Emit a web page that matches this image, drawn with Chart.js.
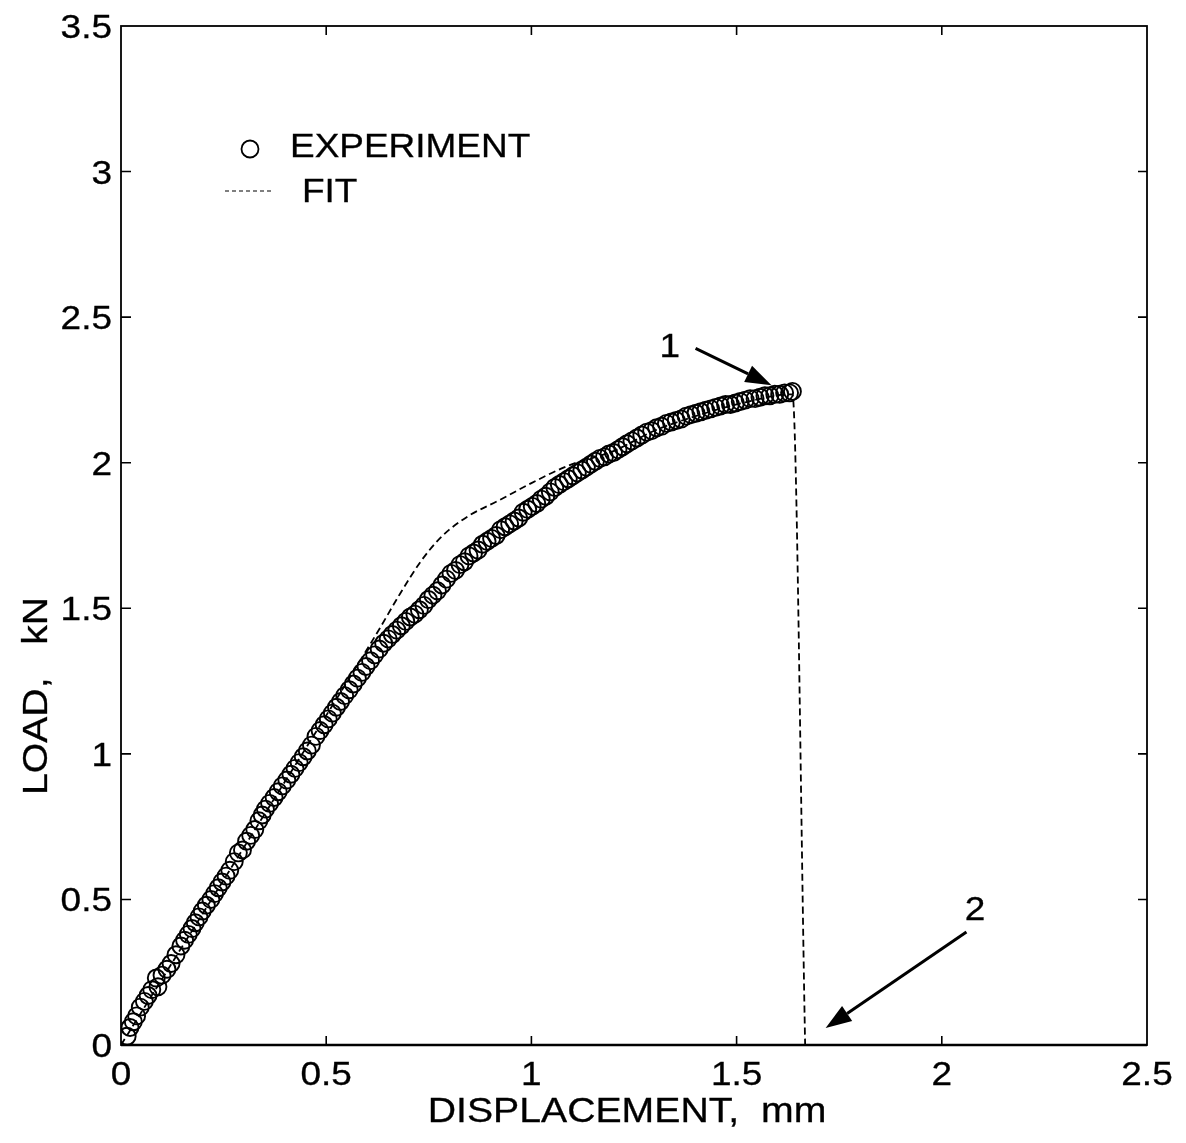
<!DOCTYPE html>
<html>
<head>
<meta charset="utf-8">
<script src="https://cdn.jsdelivr.net/npm/chart.js@4.4.1/dist/chart.umd.min.js"></script>
<style>
    html, body { margin: 0; padding: 0; background: #fff; }
    canvas { display: block; }
</style>
</head>
<body>
<canvas id="load-chart" width="1186" height="1143"></canvas>
<script>
// Tick labels
const xTicks = [0, 0.5, 1, 1.5, 2, 2.5];
const yTicks = [0, 0.5, 1, 1.5, 2, 2.5, 3, 3.5];

// EXPERIMENT (displacement mm, load kN)
const dispExp = [
    0.015, 0.022, 0.030, 0.038, 0.047, 0.057, 0.066, 0.075, 0.086, 0.090,
    0.100, 0.112, 0.122, 0.134, 0.146, 0.155, 0.164, 0.173, 0.181, 0.190,
    0.198, 0.208, 0.219, 0.228, 0.237, 0.246, 0.256, 0.265, 0.276, 0.286,
    0.296, 0.306, 0.316, 0.326, 0.336, 0.344, 0.352, 0.362, 0.373, 0.383,
    0.393, 0.404, 0.414, 0.424, 0.434, 0.444, 0.454, 0.464, 0.475, 0.485,
    0.495, 0.505, 0.515, 0.525, 0.535, 0.545, 0.556, 0.566, 0.576, 0.587,
    0.597, 0.608, 0.618, 0.629, 0.640, 0.651, 0.661, 0.672, 0.683, 0.694,
    0.705, 0.716, 0.727, 0.738, 0.749, 0.760, 0.771, 0.782, 0.793, 0.804,
    0.815, 0.826, 0.837, 0.848, 0.859, 0.870, 0.881, 0.892, 0.903, 0.914,
    0.925, 0.936, 0.947, 0.958, 0.969, 0.980, 0.991, 1.002, 1.013, 1.024,
    1.035, 1.046, 1.057, 1.068, 1.079, 1.090, 1.101, 1.112, 1.123, 1.134,
    1.145, 1.156, 1.167, 1.178, 1.189, 1.200, 1.211, 1.222, 1.233, 1.245,
    1.257, 1.269, 1.281, 1.293, 1.305, 1.317, 1.329, 1.341, 1.353, 1.365,
    1.377, 1.389, 1.401, 1.413, 1.425, 1.437, 1.449, 1.461, 1.473, 1.485,
    1.497, 1.509, 1.521, 1.533, 1.545, 1.557, 1.569, 1.581, 1.593, 1.605,
    1.617, 1.629, 1.636
];
const loadExp = [
    0.03, 0.06, 0.08, 0.10, 0.13, 0.15, 0.17, 0.19, 0.23, 0.20,
    0.24, 0.26, 0.28, 0.31, 0.34, 0.36, 0.38, 0.40, 0.42, 0.44,
    0.46, 0.48, 0.50, 0.52, 0.54, 0.56, 0.58, 0.60, 0.63, 0.66,
    0.67, 0.70, 0.72, 0.74, 0.77, 0.79, 0.81, 0.83, 0.85, 0.87,
    0.89, 0.91, 0.93, 0.95, 0.97, 0.99, 1.01, 1.03, 1.06, 1.08,
    1.10, 1.12, 1.14, 1.16, 1.18, 1.20, 1.22, 1.24, 1.26, 1.28,
    1.30, 1.32, 1.34, 1.36, 1.38, 1.395, 1.41, 1.425, 1.44, 1.455,
    1.47, 1.48, 1.495, 1.51, 1.53, 1.545, 1.56, 1.58, 1.60, 1.62,
    1.63, 1.65, 1.66, 1.68, 1.69, 1.70, 1.72, 1.73, 1.74, 1.75,
    1.77, 1.78, 1.79, 1.80, 1.81, 1.83, 1.84, 1.85, 1.86, 1.875,
    1.885, 1.90, 1.915, 1.925, 1.935, 1.945, 1.955, 1.965, 1.975, 1.985,
    1.995, 2.005, 2.015, 2.02, 2.03, 2.035, 2.045, 2.055, 2.065, 2.075,
    2.085, 2.095, 2.105, 2.11, 2.12, 2.125, 2.135, 2.14, 2.145, 2.15,
    2.16, 2.165, 2.17, 2.175, 2.18, 2.185, 2.19, 2.195, 2.20, 2.20,
    2.205, 2.21, 2.215, 2.22, 2.22, 2.225, 2.23, 2.23, 2.235, 2.235,
    2.24, 2.24, 2.245
];

// FIT
const dispFit = [0, 0.3, 0.587, 0.63, 0.68, 0.73, 0.77, 0.80, 0.85, 0.92, 1.0, 1.09, 1.2, 1.3, 1.4, 1.5, 1.636, 1.667];
const loadFit = [0, 0.68, 1.33, 1.43, 1.55, 1.66, 1.73, 1.77, 1.82, 1.87, 1.93, 1.99, 2.04, 2.11, 2.16, 2.2, 2.235, 0];

// Chú thích: nhãn và mũi tên (toạ độ dữ liệu)
const notes = [
    { text: '1', x: 1.337, y: 2.406, from: [1.400, 2.393], to: [1.585, 2.266] },
    { text: '2', x: 2.081, y: 0.470, from: [2.060, 0.388], to: [1.717, 0.058] }
];

const FONT = '"Liberation Sans", Arial, Helvetica, sans-serif';
const SX = 1.12; // chữ bản gốc rộng hơn Arial

function toPoints(xs, ys) {
    return xs.map((x, i) => ({ x: x, y: ys[i] }));
}

function text(ctx, str, x, y, align, size) {
    ctx.save();
    ctx.font = size + 'px ' + FONT;
    ctx.textAlign = align;
    ctx.textBaseline = 'alphabetic';
    ctx.translate(x, y);
    ctx.scale(SX, 1);
    ctx.fillText(str, 0, 0);
    ctx.lineWidth = 0.3;
    ctx.strokeText(str, 0, 0);
    ctx.restore();
}

function arrow(ctx, x1, y1, x2, y2) {
    const ang = Math.atan2(y2 - y1, x2 - x1);
    const len = 26, half = 9;
    const bx = x2 - len * Math.cos(ang), by = y2 - len * Math.sin(ang);
    ctx.beginPath();
    ctx.moveTo(x1, y1);
    ctx.lineTo(bx, by);
    ctx.lineWidth = 3;
    ctx.stroke();
    ctx.beginPath();
    ctx.moveTo(x2, y2);
    ctx.lineTo(bx + half * Math.sin(ang), by - half * Math.cos(ang));
    ctx.lineTo(bx - half * Math.sin(ang), by + half * Math.cos(ang));
    ctx.closePath();
    ctx.fill();
}

const framePlugin = {
    id: 'frame',
    afterDraw(chart) {
        const ctx = chart.ctx;
        const a = chart.chartArea;
        const xs = chart.scales.x, ys = chart.scales.y;
        ctx.save();
        ctx.strokeStyle = '#000';
        ctx.fillStyle = '#000';
        ctx.setLineDash([]);

        // khung
        ctx.lineWidth = 1.8;
        ctx.strokeRect(a.left, a.top, a.right - a.left, a.bottom - a.top);
        ctx.lineWidth = 2.6;
        ctx.beginPath();
        ctx.moveTo(a.left, a.bottom); ctx.lineTo(a.right, a.bottom);
        ctx.stroke();

        // vạch chia hướng vào trong
        ctx.lineWidth = 1.6;
        ctx.beginPath();
        xTicks.slice(1, -1).forEach(v => {
            const px = xs.getPixelForValue(v);
            ctx.moveTo(px, a.bottom); ctx.lineTo(px, a.bottom - 9);
            ctx.moveTo(px, a.top); ctx.lineTo(px, a.top + 9);
        });
        yTicks.slice(1, -1).forEach(v => {
            const py = ys.getPixelForValue(v);
            ctx.moveTo(a.left, py); ctx.lineTo(a.left + 10, py);
            ctx.moveTo(a.right, py); ctx.lineTo(a.right - 9, py);
        });
        ctx.stroke();

        // nhãn vạch chia
        xTicks.forEach(v => text(ctx, String(v), xs.getPixelForValue(v), a.bottom + 40, 'center', 33));
        yTicks.forEach(v => text(ctx, String(v), a.left - 9, ys.getPixelForValue(v) + 12, 'right', 33));

        // legend
        ctx.lineWidth = 1.8;
        ctx.beginPath();
        ctx.arc(250, 149, 8.5, 0, Math.PI * 2);
        ctx.stroke();
        text(ctx, 'EXPERIMENT', 290, 157, 'left', 33);
        ctx.setLineDash([4, 3]);
        ctx.lineWidth = 1.2;
        ctx.beginPath();
        ctx.moveTo(225, 191); ctx.lineTo(273, 191);
        ctx.stroke();
        ctx.setLineDash([]);
        text(ctx, 'FIT', 302, 202, 'left', 33);

        // chú thích 1, 2
        notes.forEach(n => {
            text(ctx, n.text, xs.getPixelForValue(n.x), ys.getPixelForValue(n.y) + 12, 'center', 33);
            arrow(ctx,
                xs.getPixelForValue(n.from[0]), ys.getPixelForValue(n.from[1]),
                xs.getPixelForValue(n.to[0]), ys.getPixelForValue(n.to[1]));
        });

        // tên trục
        text(ctx, 'DISPLACEMENT,  mm', 627, a.bottom + 77, 'center', 35);
        ctx.translate(47, 696);
        ctx.rotate(-Math.PI / 2);
        text(ctx, 'LOAD,   kN', 0, 0, 'center', 35);
        ctx.restore();
    }
};

const ctx = document.getElementById('load-chart').getContext('2d');
new Chart(ctx, {
    type: 'scatter',
    data: {
        datasets: [{
            label: 'FIT',
            data: toPoints(dispFit, loadFit),
            showLine: true,
            borderColor: '#000',
            borderWidth: 1.8,
            borderDash: [7, 4],
            pointRadius: 0,
            cubicInterpolationMode: 'monotone',
            order: 2
        }, {
            label: 'EXPERIMENT',
            data: toPoints(dispExp, loadExp),
            showLine: false,
            pointStyle: 'circle',
            pointRadius: 8.5,
            pointBorderWidth: 1.9,
            pointBorderColor: '#000',
            pointBackgroundColor: 'rgba(0,0,0,0)',
            order: 1
        }]
    },
    options: {
        responsive: false,
        animation: false,
        devicePixelRatio: 1,
        layout: { padding: { top: 26, right: 39, left: 0, bottom: 0 } },
        plugins: {
            legend: { display: false },
            tooltip: { enabled: false }
        },
        scales: {
            x: {
                type: 'linear',
                min: 0,
                max: 2.5,
                afterBuildTicks: s => { s.ticks = xTicks.map(v => ({ value: v })); },
                afterFit: s => { s.height = 98; },
                grid: { display: false, drawTicks: false },
                border: { display: false },
                ticks: { display: false }
            },
            y: {
                type: 'linear',
                min: 0,
                max: 3.5,
                afterBuildTicks: s => { s.ticks = yTicks.map(v => ({ value: v })); },
                afterFit: s => { s.width = 121; },
                grid: { display: false, drawTicks: false },
                border: { display: false },
                ticks: { display: false }
            }
        }
    },
    plugins: [framePlugin]
});
</script>
</body>
</html>
